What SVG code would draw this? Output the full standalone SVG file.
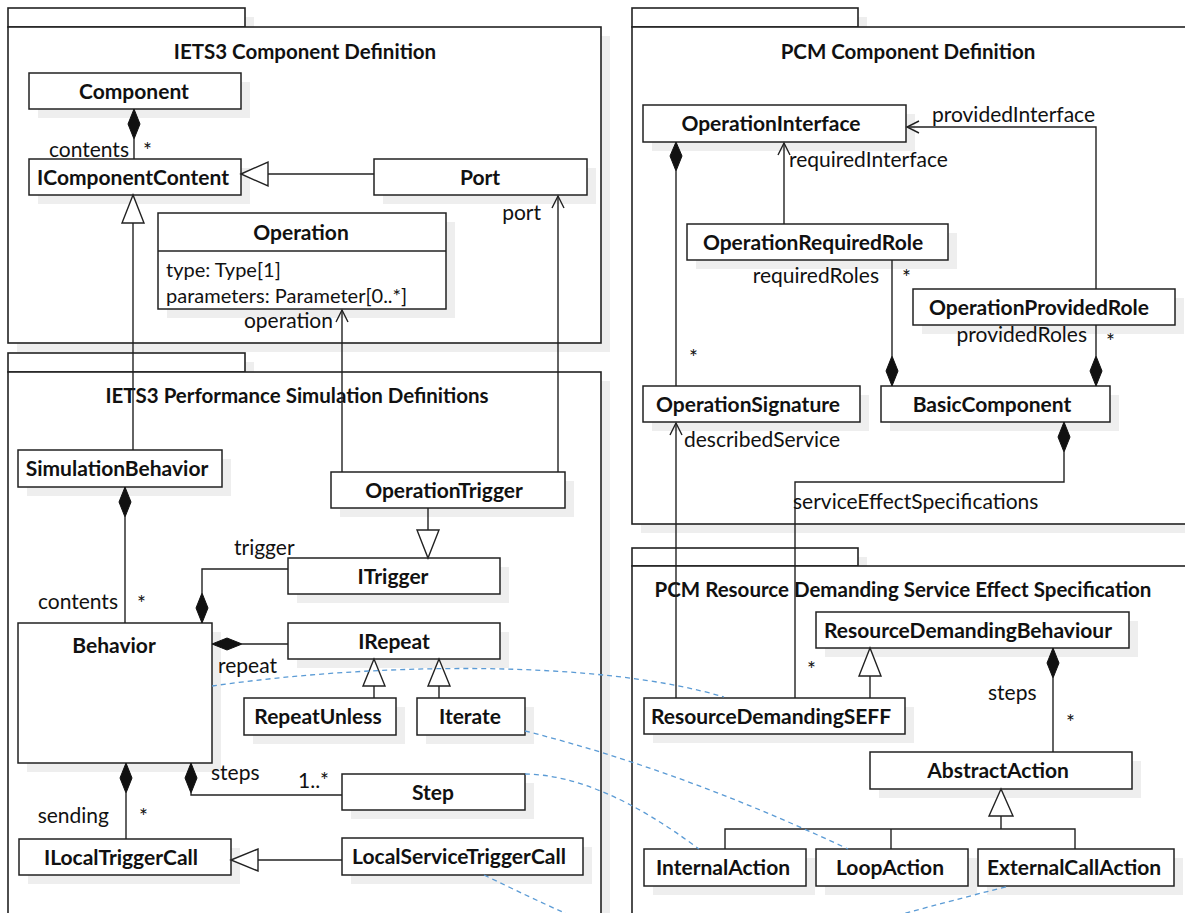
<svg xmlns="http://www.w3.org/2000/svg" width="1185" height="913" viewBox="0 0 1185 913">
  <style>
    .shadow { fill: #eeeeee; }
    .frame { fill: #ffffff; stroke: #222222; stroke-width: 1.6; }
    .box { fill: #ffffff; stroke: #222222; stroke-width: 1.5; }
    .sep { stroke: #222222; stroke-width: 1.5; }
    .name { font-family: Lato, "Liberation Sans", sans-serif; font-weight: bold; font-size: 21px; fill: #111111; text-anchor: middle; }
    .title { font-family: Lato, "Liberation Sans", sans-serif; font-weight: bold; font-size: 20.5px; fill: #111111; text-anchor: middle; }
    .attr { font-family: Lato, "Liberation Sans", sans-serif; font-size: 20px; fill: #111111; }
    .lbl { font-family: Lato, "Liberation Sans", sans-serif; font-size: 21px; fill: #111111; }
    .end { text-anchor: end; }
    .edge { fill: none; stroke: #222222; stroke-width: 1.4; }
    .diamond { fill: #111111; stroke: #111111; stroke-width: 1; }
    .tri { fill: #ffffff; stroke: #222222; stroke-width: 1.4; }
    .open { fill: none; stroke: #222222; stroke-width: 1.4; }
    .trace { fill: none; stroke: #5b9bd5; stroke-width: 1.3; stroke-dasharray: 5 4; }
  </style>

  <!-- package frames -->
  <g id="packages">
    <g id="pkg-iets3-component">
      <rect class="shadow" x="17" y="17" width="237" height="19"/>
      <rect class="shadow" x="17" y="36" width="593" height="316"/>
      <rect class="frame" x="8" y="8" width="237" height="19"/>
      <rect class="frame" x="8" y="27" width="593" height="316"/>
      <text class="title" x="305" y="59">IETS3 Component Definition</text>
    </g>
    <g id="pkg-iets3-simulation">
      <rect class="shadow" x="17" y="362" width="237" height="19"/>
      <rect class="shadow" x="17" y="381" width="593" height="600"/>
      <rect class="frame" x="8" y="353" width="237" height="19"/>
      <rect class="frame" x="8" y="372" width="593" height="600"/>
      <text class="title" x="297" y="403">IETS3 Performance Simulation Definitions</text>
    </g>
    <g id="pkg-pcm-component">
      <rect class="shadow" x="641" y="17" width="226" height="19"/>
      <rect class="shadow" x="641" y="36" width="554" height="497"/>
      <rect class="frame" x="632" y="8" width="226" height="19"/>
      <rect class="frame" x="632" y="27" width="554" height="497"/>
      <text class="title" x="908" y="59">PCM Component Definition</text>
    </g>
    <g id="pkg-pcm-seff">
      <rect class="shadow" x="641" y="557" width="226" height="18"/>
      <rect class="shadow" x="641" y="575" width="554" height="400"/>
      <rect class="frame" x="632" y="548" width="226" height="18"/>
      <rect class="frame" x="632" y="566" width="554" height="400"/>
      <text class="title" x="903" y="597">PCM Resource Demanding Service Effect Specification</text>
    </g>
  </g>

  <!-- classes -->
  <g id="nodes">
    <g id="Component">
      <rect class="shadow" x="38" y="82" width="212" height="36"/>
      <rect class="box" x="29" y="73" width="212" height="36"/>
      <text class="name" x="134" y="99">Component</text>
    </g>
    <g id="IComponentContent">
      <rect class="shadow" x="38" y="168" width="212" height="36"/>
      <rect class="box" x="29" y="159" width="212" height="36"/>
      <text class="name" x="133" y="185">IComponentContent</text>
    </g>
    <g id="Port">
      <rect class="shadow" x="383" y="168" width="213" height="36"/>
      <rect class="box" x="374" y="159" width="213" height="36"/>
      <text class="name" x="480" y="185">Port</text>
    </g>
    <g id="Operation">
      <rect class="shadow" x="167" y="222" width="288" height="96"/>
      <rect class="box" x="158" y="213" width="288" height="96"/>
      <line class="sep" x1="158" y1="251" x2="446" y2="251"/>
      <text class="name" x="301" y="240">Operation</text>
      <text class="attr" x="166" y="277">type: Type[1]</text>
      <text class="attr" x="166" y="303">parameters: Parameter[0..*]</text>
    </g>
    <g id="SimulationBehavior">
      <rect class="shadow" x="27" y="459" width="204" height="37"/>
      <rect class="box" x="18" y="450" width="204" height="37"/>
      <text class="name" x="117" y="476">SimulationBehavior</text>
    </g>
    <g id="OperationTrigger">
      <rect class="shadow" x="340" y="481" width="234" height="36"/>
      <rect class="box" x="331" y="472" width="234" height="36"/>
      <text class="name" x="444" y="498">OperationTrigger</text>
    </g>
    <g id="ITrigger">
      <rect class="shadow" x="297" y="567" width="212" height="36"/>
      <rect class="box" x="288" y="558" width="212" height="36"/>
      <text class="name" x="393" y="584">ITrigger</text>
    </g>
    <g id="IRepeat">
      <rect class="shadow" x="297" y="632" width="212" height="36"/>
      <rect class="box" x="288" y="623" width="212" height="36"/>
      <text class="name" x="394" y="649">IRepeat</text>
    </g>
    <g id="Behavior">
      <rect class="shadow" x="27" y="632" width="194" height="140"/>
      <rect class="box" x="18" y="623" width="194" height="140"/>
      <text class="name" x="114" y="653">Behavior</text>
    </g>
    <g id="RepeatUnless">
      <rect class="shadow" x="253" y="707" width="152" height="37"/>
      <rect class="box" x="244" y="698" width="152" height="37"/>
      <text class="name" x="318" y="724">RepeatUnless</text>
    </g>
    <g id="Iterate">
      <rect class="shadow" x="426" y="707" width="108" height="37"/>
      <rect class="box" x="417" y="698" width="108" height="37"/>
      <text class="name" x="470" y="724">Iterate</text>
    </g>
    <g id="Step">
      <rect class="shadow" x="351" y="783" width="183" height="36"/>
      <rect class="box" x="342" y="774" width="183" height="36"/>
      <text class="name" x="433" y="800">Step</text>
    </g>
    <g id="ILocalTriggerCall">
      <rect class="shadow" x="28" y="848" width="212" height="36"/>
      <rect class="box" x="19" y="839" width="212" height="36"/>
      <text class="name" x="121" y="865">ILocalTriggerCall</text>
    </g>
    <g id="LocalServiceTriggerCall">
      <rect class="shadow" x="351" y="847" width="241" height="37"/>
      <rect class="box" x="342" y="838" width="241" height="37"/>
      <text class="name" x="459" y="864">LocalServiceTriggerCall</text>
    </g>

    <g id="OperationInterface">
      <rect class="shadow" x="652" y="114" width="263" height="37"/>
      <rect class="box" x="643" y="105" width="263" height="37"/>
      <text class="name" x="771" y="131">OperationInterface</text>
    </g>
    <g id="OperationRequiredRole">
      <rect class="shadow" x="696" y="233" width="261" height="36"/>
      <rect class="box" x="687" y="224" width="261" height="36"/>
      <text class="name" x="813" y="250">OperationRequiredRole</text>
    </g>
    <g id="OperationProvidedRole">
      <rect class="shadow" x="922" y="298" width="262" height="36"/>
      <rect class="box" x="913" y="289" width="262" height="36"/>
      <text class="name" x="1039" y="315">OperationProvidedRole</text>
    </g>
    <g id="OperationSignature">
      <rect class="shadow" x="652" y="395" width="217" height="36"/>
      <rect class="box" x="643" y="386" width="217" height="36"/>
      <text class="name" x="748" y="412">OperationSignature</text>
    </g>
    <g id="BasicComponent">
      <rect class="shadow" x="890" y="395" width="229" height="36"/>
      <rect class="box" x="881" y="386" width="229" height="36"/>
      <text class="name" x="992" y="412">BasicComponent</text>
    </g>
    <g id="ResourceDemandingBehaviour">
      <rect class="shadow" x="825" y="621" width="313" height="36"/>
      <rect class="box" x="816" y="612" width="313" height="36"/>
      <text class="name" x="968" y="638">ResourceDemandingBehaviour</text>
    </g>
    <g id="ResourceDemandingSEFF">
      <rect class="shadow" x="653" y="707" width="261" height="36"/>
      <rect class="box" x="644" y="698" width="261" height="36"/>
      <text class="name" x="771" y="724">ResourceDemandingSEFF</text>
    </g>
    <g id="AbstractAction">
      <rect class="shadow" x="879" y="761" width="262" height="37"/>
      <rect class="box" x="870" y="752" width="262" height="37"/>
      <text class="name" x="998" y="778">AbstractAction</text>
    </g>
    <g id="InternalAction">
      <rect class="shadow" x="653" y="858" width="162" height="37"/>
      <rect class="box" x="644" y="849" width="162" height="37"/>
      <text class="name" x="723" y="875">InternalAction</text>
    </g>
    <g id="LoopAction">
      <rect class="shadow" x="825" y="858" width="152" height="37"/>
      <rect class="box" x="816" y="849" width="152" height="37"/>
      <text class="name" x="890" y="875">LoopAction</text>
    </g>
    <g id="ExternalCallAction">
      <rect class="shadow" x="987" y="858" width="196" height="37"/>
      <rect class="box" x="978" y="849" width="196" height="37"/>
      <text class="name" x="1074" y="875">ExternalCallAction</text>
    </g>
  </g>

  <!-- associations, compositions and generalizations -->
  <g id="connectors">
    <!-- Component contents -->
    <line class="edge" x1="134" y1="139" x2="134" y2="159"/>
    <polygon class="diamond" points="134,109 140,124 134,139 128,124"/>
    <text class="lbl end" x="129" y="157">contents</text>
    <text class="lbl" x="143" y="158">*</text>

    <!-- Port specializes IComponentContent -->
    <line class="edge" x1="374" y1="174" x2="268" y2="174"/>
    <polygon class="tri" points="241,174 268,162 268,186"/>

    <!-- SimulationBehavior specializes IComponentContent -->
    <line class="edge" x1="133" y1="450" x2="133" y2="223"/>
    <polygon class="tri" points="133,195 122,223 144,223"/>

    <!-- OperationTrigger operation -->
    <line class="edge" x1="342" y1="472" x2="342" y2="310"/>
    <polyline class="open" points="336,322 342,310 348,322"/>
    <text class="lbl end" x="333" y="328">operation</text>

    <!-- OperationTrigger port -->
    <line class="edge" x1="558" y1="472" x2="558" y2="196"/>
    <polyline class="open" points="552,208 558,196 564,208"/>
    <text class="lbl end" x="541" y="220">port</text>

    <!-- OperationTrigger specializes ITrigger -->
    <line class="edge" x1="428" y1="508" x2="428" y2="530"/>
    <polygon class="tri" points="417,530 439,530 428,558"/>

    <!-- SimulationBehavior contents -->
    <line class="edge" x1="125" y1="517" x2="125" y2="623"/>
    <polygon class="diamond" points="125,487 131,502 125,517 119,502"/>
    <text class="lbl end" x="118" y="609">contents</text>
    <text class="lbl" x="137" y="611">*</text>

    <!-- Behavior trigger -->
    <polyline class="edge" points="202,593 202,569 288,569"/>
    <polygon class="diamond" points="202,593 208,608 202,623 196,608"/>
    <text class="lbl" x="234" y="555">trigger</text>

    <!-- Behavior repeat -->
    <line class="edge" x1="242" y1="644" x2="288" y2="644"/>
    <polygon class="diamond" points="212,644 227,638 242,644 227,650"/>
    <text class="lbl" x="218" y="673">repeat</text>

    <!-- RepeatUnless / Iterate specialize IRepeat -->
    <line class="edge" x1="374" y1="698" x2="374" y2="686"/>
    <polygon class="tri" points="374,659 363,686 385,686"/>
    <line class="edge" x1="439" y1="698" x2="439" y2="686"/>
    <polygon class="tri" points="439,659 428,686 450,686"/>

    <!-- Behavior steps -->
    <polyline class="edge" points="191,793 191,795 342,795"/>
    <polygon class="diamond" points="191,763 197,778 191,793 185,778"/>
    <text class="lbl" x="211" y="780">steps</text>
    <text class="lbl" x="298" y="788">1..*</text>

    <!-- Behavior sending -->
    <line class="edge" x1="126" y1="793" x2="126" y2="839"/>
    <polygon class="diamond" points="126,763 132,778 126,793 120,778"/>
    <text class="lbl end" x="109" y="823">sending</text>
    <text class="lbl" x="139" y="824">*</text>

    <!-- LocalServiceTriggerCall specializes ILocalTriggerCall -->
    <line class="edge" x1="342" y1="860" x2="258" y2="860"/>
    <polygon class="tri" points="231,860 258,849 258,871"/>

    <!-- providedInterface -->
    <polyline class="edge" points="1096,289 1096,127 907,127"/>
    <polyline class="open" points="919,121 907,127 919,133"/>
    <text class="lbl end" x="1095" y="122">providedInterface</text>

    <!-- requiredInterface -->
    <line class="edge" x1="784" y1="224" x2="784" y2="143"/>
    <polyline class="open" points="778,155 784,143 790,155"/>
    <text class="lbl" x="789" y="167">requiredInterface</text>

    <!-- OperationInterface signatures -->
    <line class="edge" x1="676" y1="171" x2="676" y2="386"/>
    <polygon class="diamond" points="676,142 682,156 676,171 670,156"/>
    <text class="lbl" x="689" y="365">*</text>

    <!-- BasicComponent requiredRoles -->
    <line class="edge" x1="892" y1="260" x2="892" y2="356"/>
    <polygon class="diamond" points="892,356 898,371 892,386 886,371"/>
    <text class="lbl end" x="879" y="283">requiredRoles</text>
    <text class="lbl" x="902" y="285">*</text>

    <!-- BasicComponent providedRoles -->
    <line class="edge" x1="1096" y1="325" x2="1096" y2="356"/>
    <polygon class="diamond" points="1096,356 1102,371 1096,386 1090,371"/>
    <text class="lbl end" x="1087" y="342">providedRoles</text>
    <text class="lbl" x="1106" y="349">*</text>

    <!-- describedService -->
    <line class="edge" x1="676" y1="698" x2="676" y2="423"/>
    <polyline class="open" points="670,435 676,423 682,435"/>
    <text class="lbl" x="684" y="447">describedService</text>

    <!-- serviceEffectSpecifications -->
    <polyline class="edge" points="1064,452 1064,482 795,482 795,698"/>
    <polygon class="diamond" points="1064,422 1070,437 1064,452 1058,437"/>
    <text class="lbl" x="793" y="509">serviceEffectSpecifications</text>
    <text class="lbl" x="807" y="677">*</text>

    <!-- ResourceDemandingSEFF specializes ResourceDemandingBehaviour -->
    <line class="edge" x1="870" y1="698" x2="870" y2="676"/>
    <polygon class="tri" points="870,648 859,676 881,676"/>

    <!-- ResourceDemandingBehaviour steps -->
    <line class="edge" x1="1053" y1="678" x2="1053" y2="752"/>
    <polygon class="diamond" points="1053,648 1059,663 1053,678 1047,663"/>
    <text class="lbl" x="988" y="700">steps</text>
    <text class="lbl" x="1066" y="730">*</text>

    <!-- actions specialize AbstractAction -->
    <polygon class="tri" points="1001,789 989,816 1013,816"/>
    <polyline class="edge" points="1001,816 1001,829"/>
    <polyline class="edge" points="725,849 725,829 1075,829 1075,849"/>
    <line class="edge" x1="891" y1="829" x2="891" y2="849"/>

    <!-- traceability links -->
    <g id="traces">
      <path class="trace" d="M212,686 C380,662 600,660 724,697"/>
      <path class="trace" d="M525,731 Q680,770 848,849"/>
      <path class="trace" d="M525,774 Q600,775 699,849"/>
      <path class="trace" d="M484,875 C719,989 697,965 1009,886"/>
    </g>
  </g>
</svg>
